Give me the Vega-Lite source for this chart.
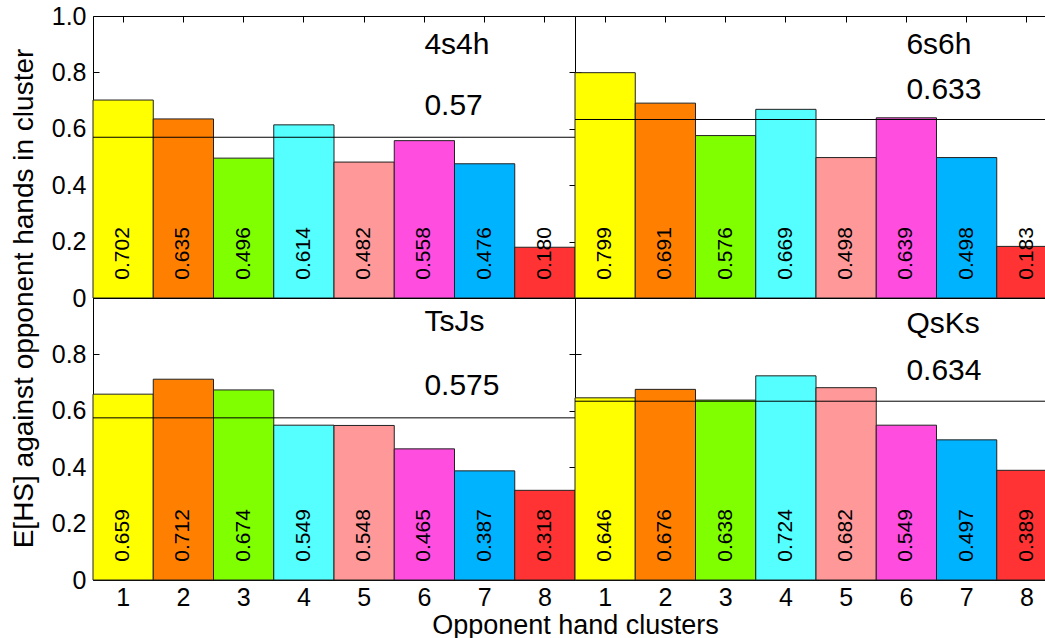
{
  "$schema": "https://vega.github.io/schema/vega-lite/v6.json",
  "padding": {"left": 9, "top": 3, "right": 0, "bottom": 0},
  "background": "white",
  "config": {
    "font": "Liberation Sans",
    "view": {"stroke": "black", "strokeWidth": 1},
    "axis": {
      "domain": false, "grid": false, "ticks": true, "tickColor": "black", "tickSize": -6, "tickWidth": 1,
      "labelColor": "black", "titleColor": "black", "labelFont": "Liberation Sans", "titleFont": "Liberation Sans",
      "titleFontWeight": "normal", "labelFontSize": 25, "titleFontSize": 27, "labelFlush": false, "labelOverlap": false
    }
  },
  "datasets": {
    "bars": [
      {"hand": "4s4h", "cluster": 1, "value": 0.702}, {"hand": "4s4h", "cluster": 2, "value": 0.635},
      {"hand": "4s4h", "cluster": 3, "value": 0.496}, {"hand": "4s4h", "cluster": 4, "value": 0.614},
      {"hand": "4s4h", "cluster": 5, "value": 0.482}, {"hand": "4s4h", "cluster": 6, "value": 0.558},
      {"hand": "4s4h", "cluster": 7, "value": 0.476}, {"hand": "4s4h", "cluster": 8, "value": 0.180},
      {"hand": "6s6h", "cluster": 1, "value": 0.799}, {"hand": "6s6h", "cluster": 2, "value": 0.691},
      {"hand": "6s6h", "cluster": 3, "value": 0.576}, {"hand": "6s6h", "cluster": 4, "value": 0.669},
      {"hand": "6s6h", "cluster": 5, "value": 0.498}, {"hand": "6s6h", "cluster": 6, "value": 0.639},
      {"hand": "6s6h", "cluster": 7, "value": 0.498}, {"hand": "6s6h", "cluster": 8, "value": 0.183},
      {"hand": "TsJs", "cluster": 1, "value": 0.659}, {"hand": "TsJs", "cluster": 2, "value": 0.712},
      {"hand": "TsJs", "cluster": 3, "value": 0.674}, {"hand": "TsJs", "cluster": 4, "value": 0.549},
      {"hand": "TsJs", "cluster": 5, "value": 0.548}, {"hand": "TsJs", "cluster": 6, "value": 0.465},
      {"hand": "TsJs", "cluster": 7, "value": 0.387}, {"hand": "TsJs", "cluster": 8, "value": 0.318},
      {"hand": "QsKs", "cluster": 1, "value": 0.646}, {"hand": "QsKs", "cluster": 2, "value": 0.676},
      {"hand": "QsKs", "cluster": 3, "value": 0.638}, {"hand": "QsKs", "cluster": 4, "value": 0.724},
      {"hand": "QsKs", "cluster": 5, "value": 0.682}, {"hand": "QsKs", "cluster": 6, "value": 0.549},
      {"hand": "QsKs", "cluster": 7, "value": 0.497}, {"hand": "QsKs", "cluster": 8, "value": 0.389}
    ],
    "means": [
      {"hand": "4s4h", "mean": 0.57, "label": "0.57"},
      {"hand": "6s6h", "mean": 0.633, "label": "0.633"},
      {"hand": "TsJs", "mean": 0.575, "label": "0.575"},
      {"hand": "QsKs", "mean": 0.634, "label": "0.634"}
    ]
  },
  "columns": 2,
  "spacing": 0,
  "bounds": "flush",
  "concat": [
    {
      "width": 482, "height": 282,
      "resolve": {"axis": {"x": "independent", "y": "independent"}},
      "layer": [
        {
          "data": {"name": "bars"}, "transform": [{"filter": "datum.hand === '4s4h'"}],
          "mark": {"type": "bar", "stroke": "#222222", "strokeWidth": 1},
          "encoding": {
            "x": {"field": "cluster", "type": "ordinal", "scale": {"paddingInner": 0, "paddingOuter": 0}, "axis": {"labels": false, "title": null, "orient": "bottom"}},
            "y": {"field": "value", "type": "quantitative", "scale": {"domain": [0, 1], "nice": false}, "axis": {"values": [0, 0.2, 0.4, 0.6, 0.8, 1.0], "labelPadding": 13, "labelExpr": "datum.value == 0 ? '0' : format(datum.value, '.1f')", "title": "E[HS] against opponent hands in cluster", "titleX": -61, "titleY": 282, "titleAngle": 270, "titleBaseline": "alphabetic", "titleAlign": "center", "titleFontSize": 28}},
            "color": {"field": "cluster", "type": "ordinal", "scale": {"domain": [1, 2, 3, 4, 5, 6, 7, 8], "range": ["#FFFF00", "#FF8000", "#80FF00", "#55FFFF", "#FF9999", "#FF4DE0", "#00B3FF", "#FF3333"]}, "legend": null}
          }
        },
        {
          "data": {"name": "bars"}, "transform": [{"filter": "datum.hand === '4s4h'"}],
          "mark": {"type": "text", "angle": 270, "align": "left", "baseline": "middle", "fontSize": 21, "color": "black"},
          "encoding": {
            "x": {"field": "cluster", "type": "ordinal", "axis": null},
            "y": {"datum": 0.065, "axis": null},
            "text": {"field": "value", "type": "quantitative", "format": ".3f"}
          }
        },
        {
          "data": {"name": "means"}, "transform": [{"filter": "datum.hand === '4s4h'"}],
          "mark": {"type": "rule", "color": "black", "strokeWidth": 1},
          "encoding": {"y": {"field": "mean", "type": "quantitative", "axis": null}}
        },
        {
          "data": {"name": "means"}, "transform": [{"filter": "datum.hand === '4s4h'"}],
          "mark": {"type": "text", "align": "left", "baseline": "middle", "fontSize": 30, "color": "black"},
          "encoding": {"x": {"datum": 6, "type": "ordinal", "axis": null}, "y": {"datum": 0.897, "axis": null}, "text": {"field": "hand"}}
        },
        {
          "data": {"name": "means"}, "transform": [{"filter": "datum.hand === '4s4h'"}],
          "mark": {"type": "text", "align": "left", "baseline": "middle", "fontSize": 30, "color": "black"},
          "encoding": {"x": {"datum": 6, "type": "ordinal", "axis": null}, "y": {"datum": 0.681, "axis": null}, "text": {"field": "label"}}
        },
        {
          "data": {"name": "bars"}, "transform": [{"filter": "datum.hand === '4s4h'"}],
          "mark": {"type": "point", "opacity": 0},
          "encoding": {
            "x": {"field": "cluster", "type": "ordinal", "axis": {"orient": "top", "labels": false, "title": null}},
            "y": {"field": "value", "type": "quantitative", "axis": {"orient": "right", "values": [0.2, 0.4, 0.6, 0.8], "labels": false, "title": null}}
          }
        }
      ]
    },
    {
      "width": 482, "height": 282,
      "resolve": {"axis": {"x": "independent", "y": "independent"}},
      "layer": [
        {
          "data": {"name": "bars"}, "transform": [{"filter": "datum.hand === '6s6h'"}],
          "mark": {"type": "bar", "stroke": "#222222", "strokeWidth": 1},
          "encoding": {
            "x": {"field": "cluster", "type": "ordinal", "scale": {"paddingInner": 0, "paddingOuter": 0}, "axis": {"labels": false, "title": null, "orient": "bottom"}},
            "y": {"field": "value", "type": "quantitative", "scale": {"domain": [0, 1], "nice": false}, "axis": {"values": [0.2, 0.4, 0.6, 0.8], "labels": false, "title": null}},
            "color": {"field": "cluster", "type": "ordinal", "scale": {"domain": [1, 2, 3, 4, 5, 6, 7, 8], "range": ["#FFFF00", "#FF8000", "#80FF00", "#55FFFF", "#FF9999", "#FF4DE0", "#00B3FF", "#FF3333"]}, "legend": null}
          }
        },
        {
          "data": {"name": "bars"}, "transform": [{"filter": "datum.hand === '6s6h'"}],
          "mark": {"type": "text", "angle": 270, "align": "left", "baseline": "middle", "fontSize": 21, "color": "black"},
          "encoding": {
            "x": {"field": "cluster", "type": "ordinal", "axis": null},
            "y": {"datum": 0.065, "axis": null},
            "text": {"field": "value", "type": "quantitative", "format": ".3f"}
          }
        },
        {
          "data": {"name": "means"}, "transform": [{"filter": "datum.hand === '6s6h'"}],
          "mark": {"type": "rule", "color": "black", "strokeWidth": 1},
          "encoding": {"y": {"field": "mean", "type": "quantitative", "axis": null}}
        },
        {
          "data": {"name": "means"}, "transform": [{"filter": "datum.hand === '6s6h'"}],
          "mark": {"type": "text", "align": "left", "baseline": "middle", "fontSize": 30, "color": "black"},
          "encoding": {"x": {"datum": 6, "type": "ordinal", "axis": null}, "y": {"datum": 0.897, "axis": null}, "text": {"field": "hand"}}
        },
        {
          "data": {"name": "means"}, "transform": [{"filter": "datum.hand === '6s6h'"}],
          "mark": {"type": "text", "align": "left", "baseline": "middle", "fontSize": 30, "color": "black"},
          "encoding": {"x": {"datum": 6, "type": "ordinal", "axis": null}, "y": {"datum": 0.738, "axis": null}, "text": {"field": "label"}}
        },
        {
          "data": {"name": "bars"}, "transform": [{"filter": "datum.hand === '6s6h'"}],
          "mark": {"type": "point", "opacity": 0},
          "encoding": {
            "x": {"field": "cluster", "type": "ordinal", "axis": {"orient": "top", "labels": false, "title": null}},
            "y": {"field": "value", "type": "quantitative", "axis": {"orient": "right", "values": [0.2, 0.4, 0.6, 0.8], "labels": false, "title": null}}
          }
        }
      ]
    },
    {
      "width": 482, "height": 282,
      "resolve": {"axis": {"x": "independent", "y": "independent"}},
      "layer": [
        {
          "data": {"name": "bars"}, "transform": [{"filter": "datum.hand === 'TsJs'"}],
          "mark": {"type": "bar", "stroke": "#222222", "strokeWidth": 1},
          "encoding": {
            "x": {"field": "cluster", "type": "ordinal", "scale": {"paddingInner": 0, "paddingOuter": 0}, "axis": {"orient": "bottom", "labelAngle": 0, "labelPadding": 31, "labelBaseline": "alphabetic", "title": "Opponent hand clusters", "titleX": 482, "titleY": 53, "titleBaseline": "alphabetic", "titleAlign": "center", "titleAnchor": null}},
            "y": {"field": "value", "type": "quantitative", "scale": {"domain": [0, 1], "nice": false}, "axis": {"values": [0, 0.2, 0.4, 0.6, 0.8], "labelPadding": 13, "labelExpr": "datum.value == 0 ? '0' : format(datum.value, '.1f')", "title": null}},
            "color": {"field": "cluster", "type": "ordinal", "scale": {"domain": [1, 2, 3, 4, 5, 6, 7, 8], "range": ["#FFFF00", "#FF8000", "#80FF00", "#55FFFF", "#FF9999", "#FF4DE0", "#00B3FF", "#FF3333"]}, "legend": null}
          }
        },
        {
          "data": {"name": "bars"}, "transform": [{"filter": "datum.hand === 'TsJs'"}],
          "mark": {"type": "text", "angle": 270, "align": "left", "baseline": "middle", "fontSize": 21, "color": "black"},
          "encoding": {
            "x": {"field": "cluster", "type": "ordinal", "axis": null},
            "y": {"datum": 0.065, "axis": null},
            "text": {"field": "value", "type": "quantitative", "format": ".3f"}
          }
        },
        {
          "data": {"name": "means"}, "transform": [{"filter": "datum.hand === 'TsJs'"}],
          "mark": {"type": "rule", "color": "black", "strokeWidth": 1},
          "encoding": {"y": {"field": "mean", "type": "quantitative", "axis": null}}
        },
        {
          "data": {"name": "means"}, "transform": [{"filter": "datum.hand === 'TsJs'"}],
          "mark": {"type": "text", "align": "left", "baseline": "middle", "fontSize": 30, "color": "black"},
          "encoding": {"x": {"datum": 6, "type": "ordinal", "axis": null}, "y": {"datum": 0.915, "axis": null}, "text": {"field": "hand"}}
        },
        {
          "data": {"name": "means"}, "transform": [{"filter": "datum.hand === 'TsJs'"}],
          "mark": {"type": "text", "align": "left", "baseline": "middle", "fontSize": 30, "color": "black"},
          "encoding": {"x": {"datum": 6, "type": "ordinal", "axis": null}, "y": {"datum": 0.688, "axis": null}, "text": {"field": "label"}}
        },
        {
          "data": {"name": "bars"}, "transform": [{"filter": "datum.hand === 'TsJs'"}],
          "mark": {"type": "point", "opacity": 0},
          "encoding": {
            "x": {"field": "cluster", "type": "ordinal", "axis": null},
            "y": {"field": "value", "type": "quantitative", "axis": {"orient": "right", "values": [0.2, 0.4, 0.6, 0.8], "labels": false, "title": null}}
          }
        }
      ]
    },
    {
      "width": 482, "height": 282,
      "resolve": {"axis": {"x": "independent", "y": "independent"}},
      "layer": [
        {
          "data": {"name": "bars"}, "transform": [{"filter": "datum.hand === 'QsKs'"}],
          "mark": {"type": "bar", "stroke": "#222222", "strokeWidth": 1},
          "encoding": {
            "x": {"field": "cluster", "type": "ordinal", "scale": {"paddingInner": 0, "paddingOuter": 0}, "axis": {"orient": "bottom", "labelAngle": 0, "labelPadding": 31, "labelBaseline": "alphabetic", "title": null}},
            "y": {"field": "value", "type": "quantitative", "scale": {"domain": [0, 1], "nice": false}, "axis": {"values": [0.2, 0.4, 0.6, 0.8], "labels": false, "title": null}},
            "color": {"field": "cluster", "type": "ordinal", "scale": {"domain": [1, 2, 3, 4, 5, 6, 7, 8], "range": ["#FFFF00", "#FF8000", "#80FF00", "#55FFFF", "#FF9999", "#FF4DE0", "#00B3FF", "#FF3333"]}, "legend": null}
          }
        },
        {
          "data": {"name": "bars"}, "transform": [{"filter": "datum.hand === 'QsKs'"}],
          "mark": {"type": "text", "angle": 270, "align": "left", "baseline": "middle", "fontSize": 21, "color": "black"},
          "encoding": {
            "x": {"field": "cluster", "type": "ordinal", "axis": null},
            "y": {"datum": 0.065, "axis": null},
            "text": {"field": "value", "type": "quantitative", "format": ".3f"}
          }
        },
        {
          "data": {"name": "means"}, "transform": [{"filter": "datum.hand === 'QsKs'"}],
          "mark": {"type": "rule", "color": "black", "strokeWidth": 1},
          "encoding": {"y": {"field": "mean", "type": "quantitative", "axis": null}}
        },
        {
          "data": {"name": "means"}, "transform": [{"filter": "datum.hand === 'QsKs'"}],
          "mark": {"type": "text", "align": "left", "baseline": "middle", "fontSize": 30, "color": "black"},
          "encoding": {"x": {"datum": 6, "type": "ordinal", "axis": null}, "y": {"datum": 0.908, "axis": null}, "text": {"field": "hand"}}
        },
        {
          "data": {"name": "means"}, "transform": [{"filter": "datum.hand === 'QsKs'"}],
          "mark": {"type": "text", "align": "left", "baseline": "middle", "fontSize": 30, "color": "black"},
          "encoding": {"x": {"datum": 6, "type": "ordinal", "axis": null}, "y": {"datum": 0.741, "axis": null}, "text": {"field": "label"}}
        },
        {
          "data": {"name": "bars"}, "transform": [{"filter": "datum.hand === 'QsKs'"}],
          "mark": {"type": "point", "opacity": 0},
          "encoding": {
            "x": {"field": "cluster", "type": "ordinal", "axis": null},
            "y": {"field": "value", "type": "quantitative", "axis": {"orient": "right", "values": [0.2, 0.4, 0.6, 0.8], "labels": false, "title": null}}
          }
        }
      ]
    }
  ]
}
